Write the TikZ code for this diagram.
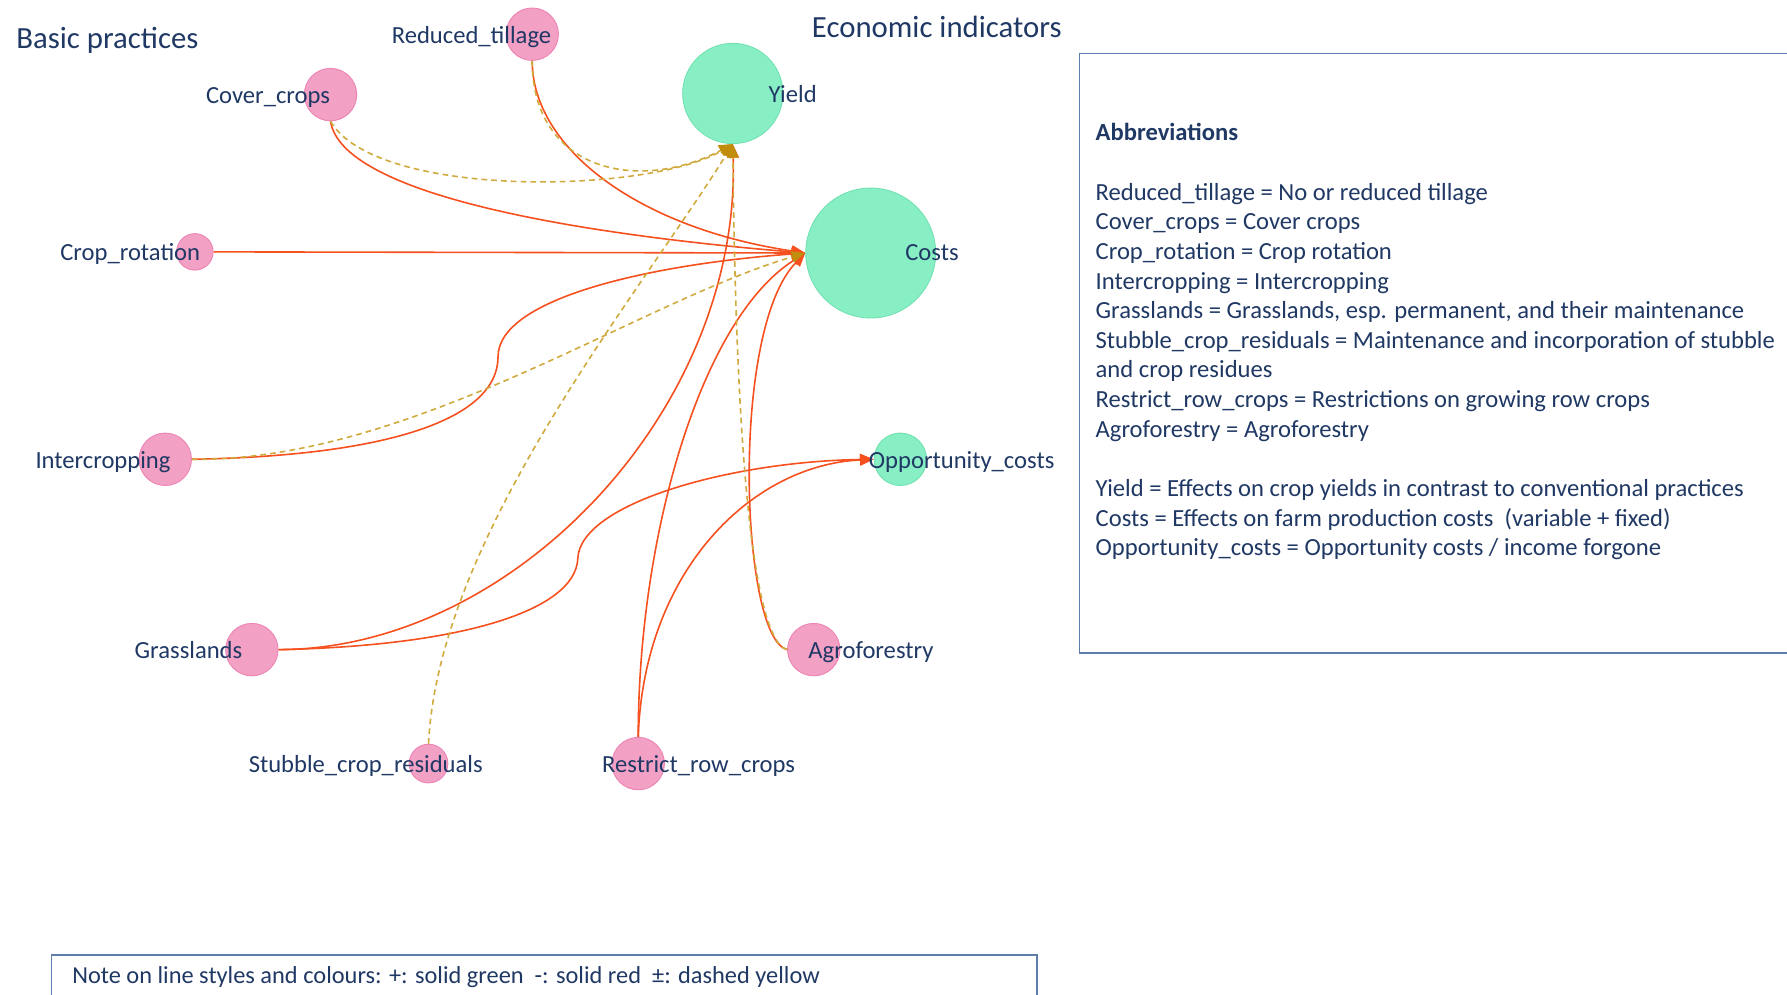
\documentclass[tikz,border=0pt]{standalone}
\usepackage{fontspec}
\setmainfont{Carlito}
\usetikzlibrary{arrows.meta}
\definecolor{pnk}{RGB}{243,160,197}
\definecolor{pnkline}{RGB}{236,132,180}
\definecolor{mint}{RGB}{136,238,196}
\definecolor{mintline}{RGB}{114,226,178}
\definecolor{navy}{RGB}{31,56,100}
\definecolor{redline}{RGB}{245,80,30}
\definecolor{goldline}{RGB}{208,170,60}
\definecolor{goldtip}{RGB}{192,142,12}
\definecolor{boxline}{RGB}{95,125,170}
\begin{document}
\begin{tikzpicture}[x=0.5pt,y=-0.5pt,
  practice/.style={circle,draw=pnkline,fill=pnk,inner sep=0pt,minimum size=23pt},
  indicator/.style={circle,draw=mintline,fill=mint,inner sep=0pt,minimum size=23pt},
  lbl/.style={text=navy,font=\fontsize{10.8}{13}\selectfont,inner sep=0pt},
  title/.style={lbl,font=\fontsize{13.5}{16}\selectfont},
  neg/.style={draw=redline,line width=0.7pt,-{Triangle[length=6pt,width=5pt]}},
  amb/.style={draw=goldline,line width=0.7pt,dash pattern=on 2.5pt off 1.8pt,-{Triangle[length=6pt,width=5pt,color=goldtip]}}]
\useasboundingbox (0,0) rectangle (1568,873);
\node [title,anchor=mid west] (bp) at (14,38) {Basic practices};
\node [title,anchor=mid west] (ei) at (712,28) {Economic indicators};
\node [practice] (a) at (467,30) {};
\node [practice] (b) at (290,83) {};
\node [practice,minimum size=16pt] (c) at (171,221) {};
\node [practice] (d) at (145,403) {};
\node [practice] (e) at (221,570) {};
\node [practice,minimum size=17pt] (f) at (376,670) {};
\node [practice] (g) at (560,670) {};
\node [practice] (h) at (714,570) {};
\node [indicator,minimum size=44pt] (y) at (643,82) {};
\node [indicator,minimum size=57pt] (k) at (764,222) {};
\node [indicator] (o) at (790,403) {};
\draw [neg] (a.south) .. controls (467,130) and (560,200) .. (k.west);
\draw [neg] (b.south) .. controls (300,170) and (500,205) .. (k.west);
\draw [neg] (c.east) -- (k.west);
\draw [neg] (d.east) .. controls (340,400) and (437,368) .. (437,313) .. controls (437,262) and (570,232) .. (k.west);
\draw [neg] (e.east) .. controls (450,570) and (650,360) .. (y.south);
\draw [neg] (e.east) .. controls (400,567) and (505,537) .. (507,490) .. controls (509,442) and (640,405) .. (o.west);
\draw [neg] (g.north) .. controls (560,470) and (615,280) .. (k.west);
\draw [neg] (g.north) .. controls (565,500) and (660,408) .. (o.west);
\draw [neg] (h.west) .. controls (650,560) and (640,290) .. (k.west);
\draw [amb] (a.south) .. controls (467,150) and (560,170) .. (y.south);
\draw [amb] (b.south) .. controls (330,175) and (570,170) .. (y.south);
\draw [amb] (d.east) .. controls (360,405) and (560,265) .. (k.west);
\draw [amb] (f.north) .. controls (385,470) and (560,260) .. (y.south);
\draw [amb] (h.west) .. controls (655,560) and (645,330) .. (y.south);
\node [lbl,anchor=mid east] (la) at (484,33) {Reduced\_tillage};
\node [lbl,anchor=mid east] (lb) at (290,86) {Cover\_crops};
\node [lbl,anchor=mid east] (lc) at (176,224) {Crop\_rotation};
\node [lbl,anchor=mid east] (ld) at (150,406) {Intercropping};
\node [lbl,anchor=mid east] (le) at (213,573) {Grasslands};
\node [lbl,anchor=mid east] (lf) at (424,673) {Stubble\_crop\_residuals};
\node [lbl,anchor=mid west] (lg) at (528,673) {Restrict\_row\_crops};
\node [lbl,anchor=mid west] (lh) at (709,573) {Agroforestry};
\node [lbl,anchor=mid west] (ly) at (674,85) {Yield};
\node [lbl,anchor=mid west] (lk) at (794,224) {Costs};
\node [lbl,anchor=mid west] (lo) at (762,406) {Opportunity\_costs};
\draw [boxline,line width=0.6pt] (947,47) rectangle (1600,573);
\node [lbl,anchor=north west,align=left] (ab) at (961,108) {\textbf{Abbreviations}\\[13pt]
Reduced\_tillage = No or reduced tillage\\
Cover\_crops = Cover crops\\
Crop\_rotation = Crop rotation\\
Intercropping = Intercropping\\
Grasslands = Grasslands, esp. permanent, and their maintenance\\
Stubble\_crop\_residuals = Maintenance and incorporation of stubble\\
and crop residues\\
Restrict\_row\_crops = Restrictions on growing row crops\\
Agroforestry = Agroforestry\\[13pt]
Yield = Effects on crop yields in contrast to conventional practices\\
Costs = Effects on farm production costs\ \ (variable + fixed)\\
Opportunity\_costs = Opportunity costs / income forgone};
\draw [boxline,line width=0.6pt] (45,838) rectangle (910,900);
\node [lbl,anchor=mid west,font=\fontsize{10.7}{12}\selectfont] (nt) at (63,858) {Note on line styles and colours: +: solid green\ \ -: solid red\ \ ±: dashed yellow};
\end{tikzpicture}
\end{document}
